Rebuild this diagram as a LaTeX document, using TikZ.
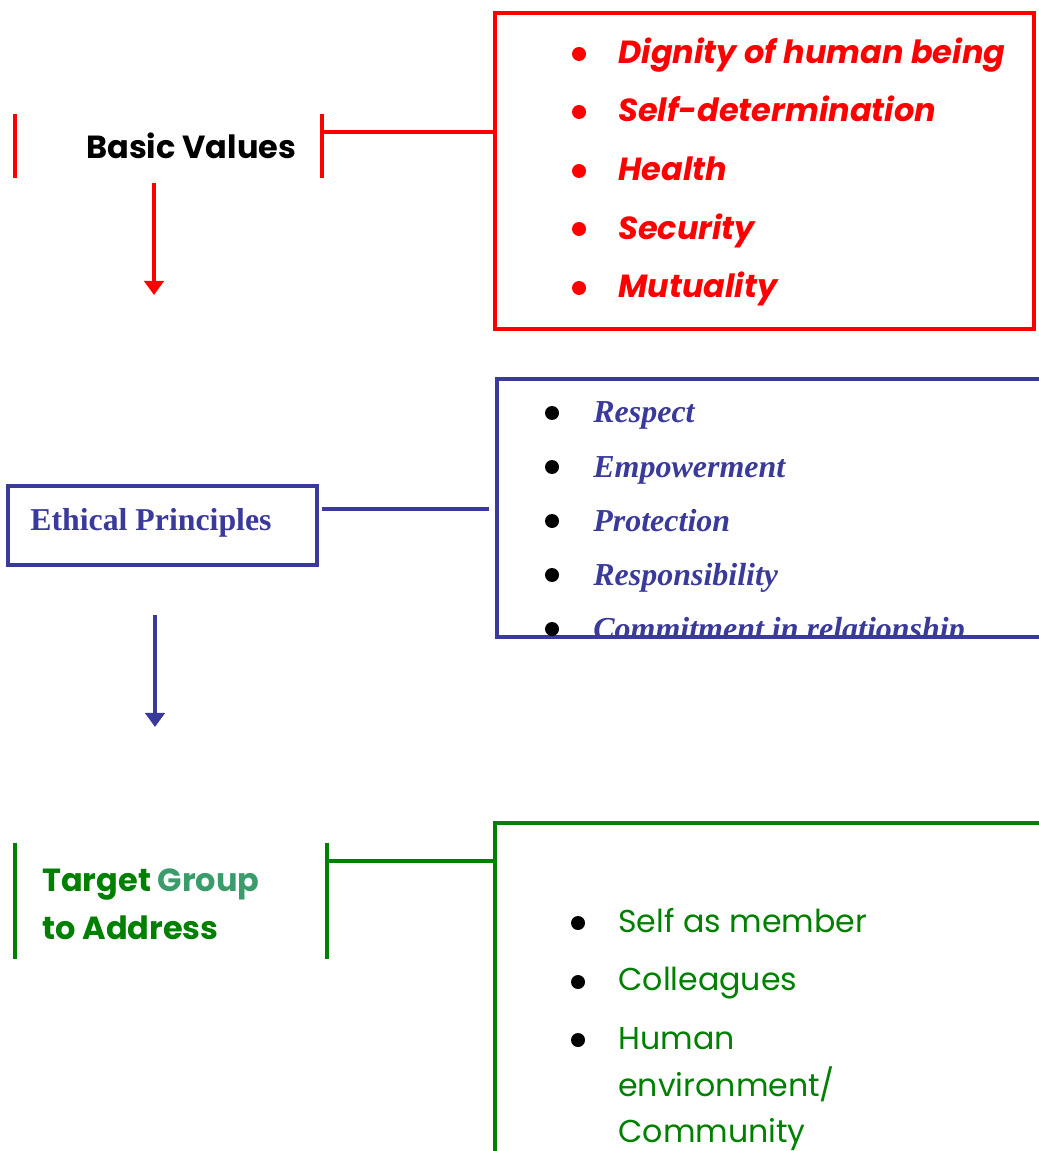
\documentclass[tikz,border=0pt]{standalone}
\usepackage{fontspec}
\setmainfont{Liberation Serif}
\newfontfamily\pop{Poppins}
\usetikzlibrary{arrows.meta,positioning}

\definecolor{valred}{RGB}{255,0,0}
\definecolor{prinblue}{RGB}{58,58,154}
\definecolor{tgtgreen}{RGB}{0,128,0}
\definecolor{grpgreen}{RGB}{58,156,106}

\tikzset{
  valtext/.style={anchor=base west,inner sep=0pt,text=valred,font=\pop\bfseries\itshape\fontsize{18.2}{22}\selectfont},
  printext/.style={anchor=base west,inner sep=0pt,text=prinblue,font=\bfseries\itshape\fontsize{18.2}{22}\selectfont},
  tgttext/.style={anchor=base west,inner sep=0pt,text=tgtgreen,font=\pop\fontsize{18}{22}\selectfont},
  dot/.style={circle,fill=#1,inner sep=0pt,minimum size=0.28cm},
  valline/.style={draw=valred,line width=2.2pt},
  prinline/.style={draw=prinblue,line width=2pt},
  tgtline/.style={draw=tgtgreen,line width=2.2pt},
}

\begin{document}
\begin{tikzpicture}[x=0.02cm,y=-0.02cm,>={Triangle[width=11pt,length=8pt]}]
  \useasboundingbox (0,0) rectangle (1038,1151);

  % basic values
  \node[anchor=base west,inner sep=0pt,font=\pop\bfseries\fontsize{18.2}{22}\selectfont] (bv) at (86,159) {Basic Values};
  \coordinate (bvl) at (15,114);
  \coordinate (bvr) at (322,114);
  \draw[valline] (bvl) -- ++(0,64);
  \draw[valline] (bvr) -- ++(0,64);
  \node[valline,minimum width=10.78cm,minimum height=6.32cm] (vbox) at (764.5,171) {};
  \draw[valline] (322,132) -- (vbox.west |- 0,132);
  \node[dot=valred] (vd1) at (579,54) {};
  \node[dot=valred] (vd2) at (579,112) {};
  \node[dot=valred] (vd3) at (579,171) {};
  \node[dot=valred] (vd4) at (579,229) {};
  \node[dot=valred] (vd5) at (579,288) {};
  \node[valtext] (v1) at (618,64) {Dignity of human being};
  \node[valtext] (v2) at (618,122) {Self-determination};
  \node[valtext] (v3) at (618,181) {Health};
  \node[valtext] (v4) at (618,240) {Security};
  \node[valtext] (v5) at (618,298) {Mutuality};
  \coordinate (va1) at (154,183);
  \coordinate (va2) at (154,295);
  \draw[->,draw=valred,fill=valred,line width=2pt] (va1) -- (va2);

  % ethical principles
  \node[prinline,minimum width=6.18cm,minimum height=1.58cm] (epbox) at (162.5,525.5) {};
  \node[anchor=base west,inner sep=0pt,text=prinblue,font=\bfseries\fontsize{18.1}{22}\selectfont] (ep) at (30,530) {Ethical Principles};
  \coordinate (epc) at (322,509);
  \draw[prinline] (epc) -- (489,509);
  \draw[prinline] (1045,379) -- (497,379) -- (497,637) -- (1045,637);
  \begin{scope}
    \clip (499,381) rectangle (1040,636);
    \node[dot=black] (pd1) at (552,413) {};
    \node[dot=black] (pd2) at (552,467) {};
    \node[dot=black] (pd3) at (552,521) {};
    \node[dot=black] (pd4) at (552,575) {};
    \node[dot=black] (pd5) at (552,629) {};
    \node[printext] (p1) at (593,422) {Respect};
    \node[printext] (p2) at (593,477) {Empowerment};
    \node[printext] (p3) at (593,531) {Protection};
    \node[printext] (p4) at (593,585) {Responsibility};
    \node[printext] (p5) at (593,639) {Commitment in relationship};
  \end{scope}
  \coordinate (pa1) at (155,615);
  \coordinate (pa2) at (155,727);
  \draw[->,draw=prinblue,fill=prinblue,line width=2pt] (pa1) -- (pa2);

  % target group
  \node[anchor=base west,inner sep=0pt,font=\pop\bfseries\fontsize{18.2}{22}\selectfont] (tg) at (42,891) {\textcolor{tgtgreen}{Target} \textcolor{grpgreen}{Group}};
  \node[anchor=base west,inner sep=0pt,text=tgtgreen,font=\pop\bfseries\fontsize{18.2}{22}\selectfont] (tg2) at (42,939) {to Address};
  \coordinate (tgl) at (15,843);
  \coordinate (tgr) at (327,843);
  \draw[tgtline] (tgl) -- ++(0,116);
  \draw[tgtline] (tgr) -- ++(0,116);
  \draw[tgtline] (327,861) -- (495,861);
  \draw[tgtline] (495,1160) -- (495,823) -- (1045,823);
  \node[dot=black] (td1) at (578,923) {};
  \node[dot=black] (td2) at (578,982) {};
  \node[dot=black] (td3) at (578,1040) {};
  \node[tgttext] (t1) at (618,932) {Self as member};
  \node[tgttext] (t2) at (618,990) {Colleagues};
  \node[tgttext] (t3) at (618,1049) {Human};
  \node[tgttext] (t3b) at (618,1096) {environment/};
  \node[tgttext] (t3c) at (618,1142) {Community};
\end{tikzpicture}
\end{document}
